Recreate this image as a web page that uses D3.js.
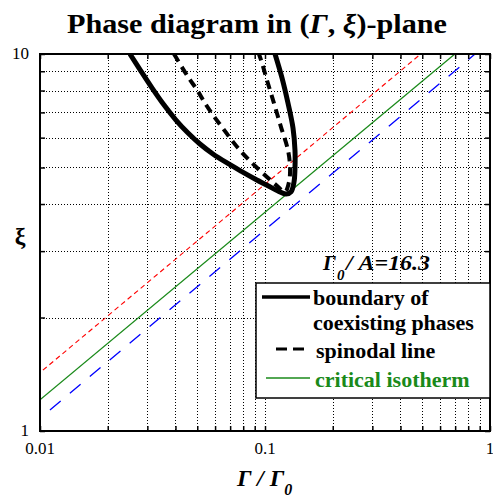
<!DOCTYPE html>
<html>
<head>
<meta charset="utf-8">
<script src="https://cdn.jsdelivr.net/npm/d3@7"></script>
<style>
  body { margin: 0; background: #fff; }
  svg { display: block; font-family: "Liberation Serif", "Times New Roman", serif; }
</style>
</head>
<body>
<svg id="chart" width="493" height="498"></svg>
<script>
// ----------------------
// data
// ----------------------
const xTickValues = [0.01, 0.1, 1];
const xTickLabels = ["0.01", "0.1", "1"];
const yTickValues = [1, 10];
const yTickLabels = ["1", "10"];

// boundary of coexisting phases (solid black)
const boundaryGamma = [0.0251, 0.0281, 0.0315, 0.0356, 0.0402, 0.0455, 0.0514, 0.0587, 0.0678, 0.0782, 0.0903,
  0.1031, 0.1142, 0.124, 0.1305, 0.1346, 0.1359, 0.1359, 0.1332, 0.1265, 0.119, 0.1108];
const boundaryXi = [10, 9.01, 8.12, 7.32, 6.68, 6.17, 5.77, 5.43, 5.14, 4.89, 4.66,
  4.47, 4.33, 4.25, 4.31, 4.58, 4.99, 5.56, 6.36, 7.41, 8.64, 10];

// spinodal line (dashed black)
const spinodalGamma = [0.0394, 0.0455, 0.0499, 0.0541, 0.0587, 0.0644, 0.0699, 0.0759, 0.0832, 0.0921, 0.102,
  0.113, 0.1227, 0.1279, 0.1292, 0.1265, 0.1178, 0.1096, 0.102, 0.097, 0.094];
const spinodalXi = [10, 8.69, 8.03, 7.41, 6.89, 6.40, 5.99, 5.63, 5.30, 4.99, 4.72,
  4.47, 4.31, 4.58, 4.99, 5.56, 6.40, 7.41, 8.53, 9.46, 10];

// critical isotherm (green) and the two guide lines (red above, blue below)
const isothermGamma = [0.01, 0.698];
const isothermXi = [1.21, 10];
const upperGamma = [0.0103, 0.492];
const upperXi = [1.45, 10];
const lowerGamma = [0.01107, 0.858];
const lowerXi = [1.137, 10];

// ----------------------
// layout
// ----------------------
const svg = d3.select("#chart");
const margin = { top: 54, right: 3, bottom: 67, left: 40 };
const width = +svg.attr("width") - margin.left - margin.right;
const height = +svg.attr("height") - margin.top - margin.bottom;
const serif = '"Liberation Serif", "Times New Roman", serif';

const g = svg.append("g")
  .attr("transform", `translate(${margin.left},${margin.top})`);

const x = d3.scaleLog().domain([0.01, 1]).range([0, width]);
const y = d3.scaleLog().domain([1, 10]).range([height, 0]);

svg.append("defs").append("clipPath").attr("id", "plot-clip")
  .append("rect").attr("width", width).attr("height", height);

// title
const title = svg.append("text")
  .attr("x", 257).attr("y", 33)
  .attr("text-anchor", "middle")
  .attr("font-size", 27).attr("font-weight", "bold")
  .attr("textLength", 380).attr("lengthAdjust", "spacingAndGlyphs");
title.append("tspan").text("Phase diagram in (");
title.append("tspan").attr("font-style", "italic").text("Γ");
title.append("tspan").text(", ");
title.append("tspan").attr("font-style", "italic").text("ξ");
title.append("tspan").text(")-plane");

// grid (dotted)
const xGrid = x.ticks().filter(v => v > 0.01 && v < 1);
const yGrid = y.ticks().filter(v => v > 1 && v < 10);

g.append("g").selectAll("line").data(xGrid).join("line")
  .attr("x1", d => Math.round(x(d)) + 0.5).attr("x2", d => Math.round(x(d)) + 0.5)
  .attr("y1", 0).attr("y2", height)
  .attr("stroke", "#000").attr("stroke-width", 1)
  .attr("stroke-dasharray", "1,2");

g.append("g").selectAll("line").data(yGrid).join("line")
  .attr("y1", d => Math.round(y(d)) + 0.5).attr("y2", d => Math.round(y(d)) + 0.5)
  .attr("x1", 0).attr("x2", width)
  .attr("stroke", "#000").attr("stroke-width", 1)
  .attr("stroke-dasharray", "1,2");

// curves
const pts = (gs, xs) => gs.map((v, i) => [v, xs[i]]);
const smooth = d3.line().x(d => x(d[0])).y(d => y(d[1])).curve(d3.curveCatmullRom.alpha(0.5));
const straight = d3.line().x(d => x(d[0])).y(d => y(d[1]));

const plot = g.append("g").attr("clip-path", "url(#plot-clip)");

plot.append("path").datum(pts(upperGamma, upperXi))
  .attr("d", straight).attr("fill", "none")
  .attr("stroke", "#ff0000").attr("stroke-width", 1.1)
  .attr("stroke-dasharray", "5,3.5");

plot.append("path").datum(pts(isothermGamma, isothermXi))
  .attr("d", straight).attr("fill", "none")
  .attr("stroke", "#1a8a1a").attr("stroke-width", 1.3);

plot.append("path").datum(pts(lowerGamma, lowerXi))
  .attr("d", straight).attr("fill", "none")
  .attr("stroke", "#0000ff").attr("stroke-width", 1.3)
  .attr("stroke-dasharray", "14,12");

plot.append("path").datum(pts(spinodalGamma, spinodalXi))
  .attr("d", smooth).attr("fill", "none")
  .attr("stroke", "#000").attr("stroke-width", 4)
  .attr("stroke-dasharray", "9,6");

plot.append("path").datum(pts(boundaryGamma, boundaryXi))
  .attr("d", smooth).attr("fill", "none")
  .attr("stroke", "#000").attr("stroke-width", 5)
  .attr("stroke-linejoin", "round");

// inward ticks on all four sides
const allX = x.ticks();
const allY = y.ticks();
const tickStyle = sel => {
  sel.select(".domain").remove();
  sel.selectAll(".tick line").attr("stroke", "#000").attr("stroke-width", 1.5);
  sel.selectAll(".tick text").remove();
};
g.append("g").attr("transform", `translate(0,${height})`)
  .call(d3.axisBottom(x).tickValues(allX).tickSize(-5)).call(tickStyle);
g.append("g")
  .call(d3.axisTop(x).tickValues(allX).tickSize(-5)).call(tickStyle);
g.append("g")
  .call(d3.axisLeft(y).tickValues(allY).tickSize(-5)).call(tickStyle);
g.append("g").attr("transform", `translate(${width},0)`)
  .call(d3.axisRight(y).tickValues(allY).tickSize(-5)).call(tickStyle);

// frame
g.append("rect").attr("width", width).attr("height", height)
  .attr("fill", "none").attr("stroke", "#000").attr("stroke-width", 2);

// tick labels
g.append("g").selectAll("text").data(xTickValues).join("text")
  .attr("x", d => x(d)).attr("y", height + 23)
  .attr("text-anchor", "middle")
  .attr("font-family", serif).attr("font-size", 17)
  .text((d, i) => xTickLabels[i]);

g.append("g").selectAll("text").data(yTickValues).join("text")
  .attr("x", -11).attr("y", d => y(d) + 5)
  .attr("text-anchor", "end")
  .attr("font-family", serif).attr("font-size", 17)
  .text((d, i) => yTickLabels[i]);

// axis labels
svg.append("text")
  .attr("x", 20).attr("y", 244)
  .attr("text-anchor", "middle")
  .attr("font-size", 24).attr("font-weight", "bold")
  .text("ξ");

const xLabel = svg.append("text")
  .attr("x", 237).attr("y", 486)
  .attr("font-size", 24).attr("font-weight", "bold").attr("font-style", "italic");
xLabel.append("tspan").text("Γ / Γ");
xLabel.append("tspan").attr("font-size", 16).attr("dy", 9).text("0");

// annotation
const note = svg.append("text")
  .attr("y", 270)
  .attr("font-size", 21).attr("font-weight", "bold").attr("font-style", "italic");
note.append("tspan").attr("x", 323).text("Γ");
note.append("tspan").attr("x", 337).attr("dy", 10).attr("font-size", 15).text("0");
note.append("tspan").attr("x", 346).attr("dy", -10)
  .attr("textLength", 84).attr("lengthAdjust", "spacingAndGlyphs").text("/ A=16.3");

// legend
const legend = svg.append("g");
legend.append("rect")
  .attr("x", 256).attr("y", 283).attr("width", 234).attr("height", 115)
  .attr("fill", "#fff").attr("stroke", "#000").attr("stroke-width", 1.5);

legend.append("line").attr("x1", 262).attr("x2", 310).attr("y1", 297).attr("y2", 297)
  .attr("stroke", "#000").attr("stroke-width", 3.5);
legend.append("line").attr("x1", 276).attr("x2", 310).attr("y1", 349).attr("y2", 349)
  .attr("stroke", "#000").attr("stroke-width", 3).attr("stroke-dasharray", "11,6");
legend.append("line").attr("x1", 266).attr("x2", 310).attr("y1", 378).attr("y2", 378)
  .attr("stroke", "#1a8a1a").attr("stroke-width", 1.3);

const legendText = [
  { t: "boundary of", x: 313, y: 305, c: "#000" },
  { t: "coexisting phases", x: 313, y: 330, c: "#000" },
  { t: "spinodal line", x: 316, y: 358, c: "#000" },
  { t: "critical isotherm", x: 315, y: 387, c: "#1a8a1a" }
];
legend.selectAll("text.lg").data(legendText).join("text")
  .attr("class", "lg")
  .attr("x", d => d.x).attr("y", d => d.y)
  .attr("font-size", 22).attr("font-weight", "bold")
  .attr("fill", d => d.c)
  .text(d => d.t);
</script>
</body>
</html>
